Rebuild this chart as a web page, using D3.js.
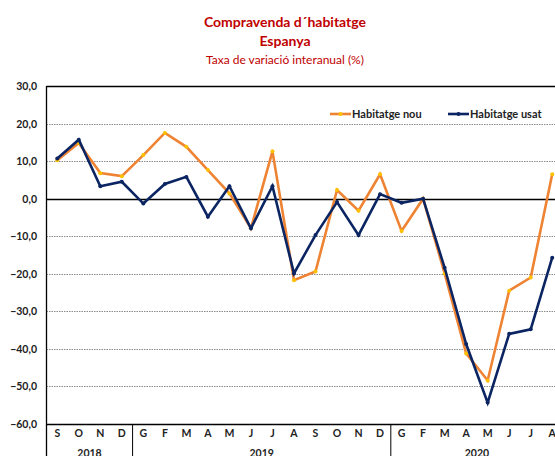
<!DOCTYPE html>
<html>
<head>
<meta charset="utf-8">
<script src="https://cdnjs.cloudflare.com/ajax/libs/d3/7.8.5/d3.min.js"></script>
<style>
  body { margin: 0; background: #fff; }
  svg { display: block; font-family: Lato, "Open Sans", sans-serif; }
  .title { fill: #C00000; font-weight: bold; font-size: 14px; }
  .subtitle { fill: #C00000; font-size: 12px; }
  .axis-label { font-weight: bold; font-size: 10.5px; fill: #222; }
  .legend-text { font-weight: bold; font-size: 11px; fill: #222; }
</style>
</head>
<body>
<div id="chart-area"></div>
<script>
// data
var months = ["S","O","N","D","G","F","M","A","M","J","J","A","S","O","N","D","G","F","M","A","M","J","J","A"];
var years = [{label: "2018", from: 0, to: 4}, {label: "2019", from: 4, to: 16}, {label: "2020", from: 16, to: 24}];
var nouValues = [10.2, 14.8, 6.8, 6.0, 11.6, 17.5, 13.8, 7.6, 1.4, -7.9, 12.6, -21.7,
                 -19.4, 2.3, -3.2, 6.5, -8.6, 0.0, -19.9, -41.2, -48.4, -24.5, -21.0, 6.5];
var usatValues = [10.7, 15.7, 3.3, 4.5, -1.3, 3.9, 5.8, -4.8, 3.3, -7.9, 3.3, -19.9,
                  -9.7, -0.9, -9.7, 1.2, -1.1, 0.0, -18.4, -38.7, -54.3, -36.0, -34.8, -15.7];
var yTicks = [30, 20, 10, 0, -10, -20, -30, -40, -50, -60];

var W = 555, H = 456;
var plotLeft = 46.5, plotTop = 86, plotBottom = 424, step = 21.52;

var svg = d3.select("#chart-area").append("svg")
  .attr("width", W).attr("height", H);

// titles
svg.append("text").attr("class", "title").attr("x", 285).attr("y", 27)
  .attr("text-anchor", "middle").text("Compravenda d´habitatge");
svg.append("text").attr("class", "title").attr("x", 285).attr("y", 46)
  .attr("text-anchor", "middle").text("Espanya");
svg.append("text").attr("class", "subtitle").attr("x", 285).attr("y", 64)
  .attr("text-anchor", "middle").text("Taxa de variació interanual (%)");

var xScale = d3.scaleBand()
  .domain(d3.range(months.length))
  .range([plotLeft, plotLeft + months.length * step]);

var yScale = d3.scaleLinear()
  .domain([-60, 30])
  .range([plotBottom, plotTop]);

var fmt = function(v) { return d3.format(".1f")(v).replace(".", ","); };

// grid
svg.append("g").selectAll("line")
  .data(yTicks.filter(d => d != 0 && d != 30 && d != -60))
  .enter().append("line")
  .attr("x1", plotLeft).attr("x2", W)
  .attr("y1", d => Math.round(yScale(d)) + 0.5)
  .attr("y2", d => Math.round(yScale(d)) + 0.5)
  .attr("stroke", "#8a8a8a").attr("stroke-width", 1)
  .attr("stroke-dasharray", "1.5,1");

// solid lines: top, zero, bottom
svg.append("g").selectAll("line")
  .data([30, 0, -60])
  .enter().append("line")
  .attr("x1", plotLeft).attr("x2", W)
  .attr("y1", d => Math.round(yScale(d)) + 0.5)
  .attr("y2", d => Math.round(yScale(d)) + 0.5)
  .attr("stroke", "#000").attr("stroke-width", d => d == 0 ? 1.3 : 1.5);

// left axis line, down to bottom of picture
svg.append("line")
  .attr("x1", plotLeft).attr("x2", plotLeft)
  .attr("y1", plotTop).attr("y2", H)
  .attr("stroke", "#000").attr("stroke-width", 1.3);

// year separators
svg.append("g").selectAll("line")
  .data(years.slice(1))
  .enter().append("line")
  .attr("x1", d => xScale(d.from)).attr("x2", d => xScale(d.from))
  .attr("y1", plotBottom).attr("y2", H)
  .attr("stroke", "#000").attr("stroke-width", 1);

// y tick labels
svg.append("g").selectAll("text")
  .data(yTicks)
  .enter().append("text")
  .attr("class", "axis-label")
  .attr("x", 37)
  .attr("y", d => yScale(d) + 4)
  .attr("text-anchor", "end")
  .text(fmt);

// month labels
svg.append("g").selectAll("text")
  .data(months)
  .enter().append("text")
  .attr("class", "axis-label")
  .attr("x", (d, i) => xScale(i) + xScale.bandwidth() / 2)
  .attr("y", 437)
  .attr("text-anchor", "middle")
  .text(d => d);

// year labels (cut by the bottom edge, as in the original)
svg.append("g").selectAll("text")
  .data(years)
  .enter().append("text")
  .attr("class", "axis-label")
  .attr("x", d => (xScale(d.from) + xScale(d.to - 1) + xScale.bandwidth()) / 2)
  .attr("y", 456.5)
  .attr("text-anchor", "middle")
  .text(d => d.label);

var lineGenerator = d3.line()
  .x((d, i) => xScale(i) + xScale.bandwidth() / 2)
  .y(d => yScale(d));

var series = [
  {name: "Habitatge nou", values: nouValues, color: "#EE8433", marker: "#FFC000", lx: 330},
  {name: "Habitatge usat", values: usatValues, color: "#0B2462", marker: "#0B2462", lx: 448}
];

series.forEach(function(s) {
  svg.append("path")
    .datum(s.values)
    .attr("fill", "none")
    .attr("stroke", s.color)
    .attr("stroke-width", 2.6)
    .attr("stroke-linejoin", "miter")
    .attr("d", lineGenerator);

  svg.append("g").selectAll("circle")
    .data(s.values)
    .enter().append("circle")
    .attr("cx", (d, i) => xScale(i) + xScale.bandwidth() / 2)
    .attr("cy", d => yScale(d))
    .attr("r", 2)
    .attr("fill", s.marker);

  // legend
  var ly = 114;
  svg.append("line")
    .attr("x1", s.lx).attr("x2", s.lx + 21)
    .attr("y1", ly).attr("y2", ly)
    .attr("stroke", s.color).attr("stroke-width", 2.6);
  svg.append("circle")
    .attr("cx", s.lx + 10.5).attr("cy", ly).attr("r", 2)
    .attr("fill", s.marker);
  svg.append("text")
    .attr("class", "legend-text")
    .attr("x", s.lx + 22).attr("y", ly + 4)
    .text(s.name);
});
</script>
</body>
</html>
